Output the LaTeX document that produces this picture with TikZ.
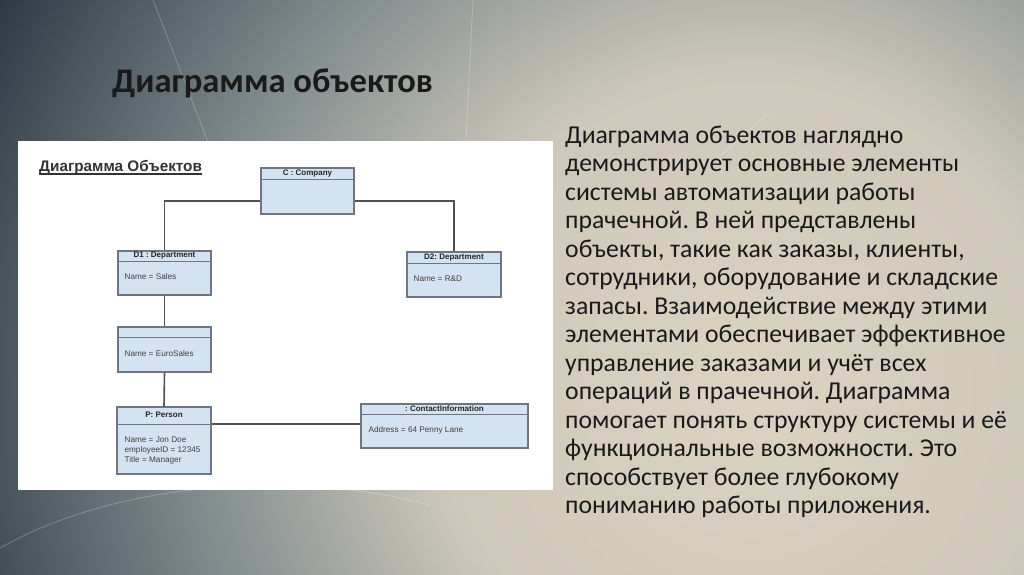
\documentclass[tikz,border=0pt]{standalone}
\usepackage{fontspec}
\setmainfont{Carlito}
\newfontfamily\diagfont{Liberation Sans}
\usetikzlibrary{positioning}
\definecolor{bglight}{HTML}{DCD3C2}
\definecolor{bgmid}{HTML}{7F8B8D}
\definecolor{bgedge}{HTML}{22303B}
\definecolor{objfill}{HTML}{D4E3F1}
\definecolor{objline}{HTML}{6E7682}
\definecolor{linkline}{HTML}{4E5256}
\definecolor{inktext}{HTML}{1A1A1A}
\pgfdeclareradialshading{slidebg}{\pgfpoint{0bp}{0bp}}{color(0bp)=(bglight); color(9bp)=(bglight!85!bgmid); color(16bp)=(bgmid); color(25bp)=(bgedge); color(50bp)=(bgedge)}
\frenchspacing
\begin{document}
\begin{tikzpicture}[
  x=1pt, y=-1pt,
  obj/.style={draw=objline, fill=objfill, line width=1.2pt, inner sep=0pt},
  objsep/.style={draw=objline, line width=1.2pt},
  objhead/.style={font=\diagfont\fontsize{8}{9}\selectfont\bfseries, text=black!85, inner sep=0pt},
  objattr/.style={font=\diagfont\fontsize{8.2}{10}\selectfont, text=black!75, align=left, anchor=west, inner sep=0pt},
  bodyline/.style={font=\fontsize{25.7}{28.5}\selectfont, text=inktext, anchor=base west, inner sep=0pt},
  link/.style={draw=linkline, line width=1.6pt},
  streak/.style={draw=white, opacity=0.25, line width=0.8pt}
]
\useasboundingbox (0,0) rectangle (1024,574);

% slide background
\fill[bgedge] (0,0) rectangle (1024,574);
\begin{scope}
  \clip (0,0) rectangle (1024,574);
  \shade[shading=slidebg] (750,390) circle (880);
  \draw[streak] (153,0) -- (215,160);
  \draw[streak] (473,0) .. controls (470,60) .. (466,140);
  \draw[streak] (770,112) -- (715,160);
  \draw[streak] (0,548) .. controls (120,480) and (300,470) .. (430,505);
\end{scope}

% title and text
\node[font=\fontsize{34.5}{40}\selectfont\bfseries, text=inktext, anchor=base west, inner sep=0pt] (title) at (112,92) {Диаграмма объектов};
\foreach \txt [count=\i] in {
  {Диаграмма объектов наглядно},
  {демонстрирует основные элементы},
  {системы автоматизации работы},
  {прачечной. В ней представлены},
  {объекты, такие как заказы, клиенты,},
  {сотрудники, оборудование и складские},
  {запасы. Взаимодействие между этими},
  {элементами обеспечивает эффективное},
  {управление заказами и учёт всех},
  {операций в прачечной. Диаграмма},
  {помогает понять структуру системы и её},
  {функциональные возможности. Это},
  {способствует более глубокому},
  {пониманию работы приложения.}}
  \node[bodyline] (ln\i) at (565,114.5+28.5*\i) {\txt};

% white panel with the object diagram
\fill[white] (18,141) rectangle (553,490);
\node[font=\diagfont\fontsize{15.3}{17}\selectfont\bfseries, text=black!80, anchor=base west, inner sep=0pt] (phead) at (39,171) {Диаграмма Объектов};
\draw[black!80, line width=1.2pt] ([yshift=-3pt]phead.base west) -- ([yshift=-3pt]phead.base east);

\node[obj, minimum width=93pt, minimum height=46pt] (co) at (307.5,191) {};
\node[obj, minimum width=93pt, minimum height=44pt] (d1) at (164.5,273) {};
\node[obj, minimum width=94pt, minimum height=45pt] (d2) at (454,274.5) {};
\node[obj, minimum width=93pt, minimum height=45pt] (es) at (164.5,349.5) {};
\node[obj, minimum width=94pt, minimum height=67pt] (pe) at (164,440.5) {};
\node[obj, minimum width=167pt, minimum height=44pt] (ct) at (444.5,426) {};

\draw[objsep] ([yshift=-12pt]co.north west) -- ([yshift=-12pt]co.north east);
\draw[objsep] ([yshift=-11pt]d1.north west) -- ([yshift=-11pt]d1.north east);
\draw[objsep] ([yshift=-12pt]d2.north west) -- ([yshift=-12pt]d2.north east);
\draw[objsep] ([yshift=-11pt]es.north west) -- ([yshift=-11pt]es.north east);
\draw[objsep] ([yshift=-18pt]pe.north west) -- ([yshift=-18pt]pe.north east);
\draw[objsep] ([yshift=-11pt]ct.north west) -- ([yshift=-11pt]ct.north east);

\node[objhead] (co-t) at ([yshift=-6pt]co.north) {C : Company};
\node[objhead] (d1-t) at ([yshift=-5.5pt]d1.north) {D1 : Department};
\node[objhead] (d2-t) at ([yshift=-6pt]d2.north) {D2: Department};
\node[objhead] (pe-t) at ([yshift=-8pt]pe.north) {P: Person};
\node[objhead] (ct-t) at ([yshift=-5.5pt]ct.north) {: ContactInformation};

\node[objattr] (d1-a) at ([xshift=7pt,yshift=-26pt]d1.north west) {Name = Sales};
\node[objattr] (d2-a) at ([xshift=7pt,yshift=-27pt]d2.north west) {Name = R\&D};
\node[objattr] (es-a) at ([xshift=7pt,yshift=-27pt]es.north west) {Name = EuroSales};
\node[objattr] (pe-a) at ([xshift=8pt,yshift=-44pt]pe.north west) {Name = Jon Doe\\employeeID = 12345\\Title = Manager};
\node[objattr] (ct-a) at ([xshift=8pt,yshift=-27pt]ct.north west) {Address = 64 Penny Lane};

% links
\draw[link] ([yshift=-10pt]co.west) -| (d1.north);
\draw[link] ([yshift=-10pt]co.east) -| (d2.north);
\draw[link] (d1.south) -- (es.north);
\draw[link] (es.south) -- (pe.north);
\draw[link] ([yshift=16.5pt]pe.east) -- ([yshift=16.5pt]pe.east -| ct.west);
\end{tikzpicture}
\end{document}
